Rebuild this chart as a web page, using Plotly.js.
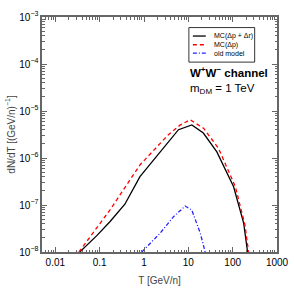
<!DOCTYPE html>
<html><head><meta charset="utf-8">
<script src="https://cdn.plot.ly/plotly-3.0.1.min.js"></script>
<style>html,body{margin:0;padding:0;background:#fff}#c{width:295px;height:295px}</style>
</head><body><div id="c"></div>
<script>
// MC(Δp + Δr)
const tBlack = [0.0356, 0.085, 0.17, 0.37, 0.81, 1.77, 3.5, 6, 12, 21.8, 44, 105, 177, 217];
const yBlack = [1e-8, 2.2e-8, 4.4e-8, 1.04e-7, 4.0e-7, 9.9e-7, 2.06e-6, 4.0e-6, 5.04e-6, 3.4e-6, 1.35e-6, 2.45e-7, 4.1e-8, 1e-8];
// MC(Δp)
const tRed = [0.034, 0.17, 0.81, 3.5, 6.5, 11, 22, 48, 115, 190, 228];
const yRed = [1e-8, 7.8e-8, 7.1e-7, 3.1e-6, 5.0e-6, 6.5e-6, 4.3e-6, 1.6e-6, 2.45e-7, 3.7e-8, 1e-8];
// old model
const tBlue = [0.89, 2.3, 4.6, 8.5, 12, 18.6, 24];
const yBlue = [1e-8, 2.5e-8, 5.6e-8, 9.5e-8, 7.8e-8, 2.5e-8, 1e-8];

const xTickVals = [0.01, 0.1, 1, 10, 100, 1000];
const xTickText = ['0.01', '0.1', '1', '10', '100', '1000'];
const yTickVals = [1e-8, 1e-7, 1e-6, 1e-5, 1e-4, 1e-3];
const yTickText = ['10<sup>−8</sup>', '10<sup>−7</sup>', '10<sup>−6</sup>', '10<sup>−5</sup>', '10<sup>−4</sup>', '10<sup>−3</sup>'];
const names = ['MC(Δp + Δr)', 'MC(Δp)', 'old model'];
const colors = ['#000000', '#ff0000', '#2222ff'];
const dashes = ['solid', '4px,3px', '4px,2px,1px,2px'];

const FONT = 'Liberation Sans, Arial, sans-serif';

const traces = [
  {x: tBlack, y: yBlack, name: names[0], mode: 'lines', line: {color: colors[0], width: 1.3, dash: dashes[0]}},
  {x: tRed, y: yRed, name: names[1], mode: 'lines', line: {color: colors[1], width: 1.3, dash: dashes[1]}},
  {x: tBlue, y: yBlue, name: names[2], mode: 'lines', line: {color: colors[2], width: 1.3, dash: dashes[2]}}
];

const axCommon = {
  type: 'log', showline: true, linecolor: '#666', linewidth: 1.6, mirror: 'ticks',
  ticks: 'inside', ticklen: 5, tickcolor: '#666', tickwidth: 1, showgrid: false, zeroline: false,
  tickfont: {family: FONT, size: 10, color: '#000'},
  minor: {ticks: 'inside', ticklen: 2.5, tickcolor: '#666', dtick: 'D1', showgrid: false}
};

// hand-built compact legend (paper coords)
const legRowsY = [0.919, 0.882, 0.846];
const shapes = [
  {type: 'rect', xref: 'paper', yref: 'paper', x0: 0.625, x1: 0.905, y0: 0.808, y1: 0.955,
   line: {color: '#000', width: 0.8}, fillcolor: '#fff', layer: 'above'}
];
const annotations = [];
names.forEach((n, i) => {
  shapes.push({type: 'line', xref: 'paper', yref: 'paper', x0: 0.642, x1: 0.697, y0: legRowsY[i], y1: legRowsY[i],
    line: {color: colors[i], width: 1.3, dash: dashes[i]}, layer: 'above'});
  annotations.push({xref: 'paper', yref: 'paper', x: 0.722, y: legRowsY[i], xanchor: 'left', yanchor: 'middle',
    showarrow: false, text: n, font: {family: FONT, size: 7, color: '#000'}});
});
annotations.push(
  {xref: 'paper', yref: 'paper', x: 0.622, y: 0.765, xanchor: 'left', yanchor: 'middle', showarrow: false,
   text: '<b>W<sup>+</sup>W<sup>−</sup> channel</b>', font: {family: FONT, size: 11.5, color: '#000'}},
  {xref: 'paper', yref: 'paper', x: 0.622, y: 0.695, xanchor: 'left', yanchor: 'middle', showarrow: false,
   text: 'm<sub>DM</sub> = 1 TeV', font: {family: FONT, size: 11.5, color: '#000'}}
);

const layout = {
  width: 295, height: 295,
  margin: {l: 42, r: 17.5, t: 17, b: 43},
  paper_bgcolor: '#fff', plot_bgcolor: '#fff',
  showlegend: false,
  xaxis: Object.assign({}, axCommon, {
    range: [Math.log10(0.005), 3], tickvals: xTickVals, ticktext: xTickText,
    title: {text: 'T [GeV/n]', font: {family: FONT, size: 10}, standoff: 10}
  }),
  yaxis: Object.assign({}, axCommon, {
    range: [-8, -3], tickvals: yTickVals, ticktext: yTickText,
    title: {text: 'dN/dT [(GeV/n)<sup>−1</sup>]', font: {family: FONT, size: 10}, standoff: 2}
  }),
  shapes: shapes,
  annotations: annotations
};

Plotly.newPlot('c', traces, layout, {displayModeBar: false, staticPlot: true});
</script></body></html>
